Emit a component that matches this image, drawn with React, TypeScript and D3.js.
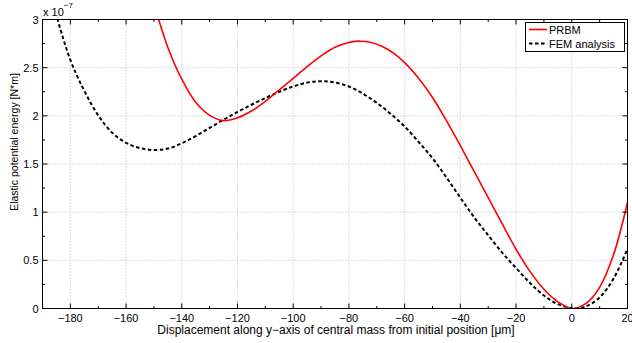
import React from "react";
import * as d3 from "d3";

const prbmX = [-150, -148.3, -145, -140, -135, -130, -125, -120, -115, -110, -105, -100, -95, -90, -85, -80, -76, -72, -68, -64, -60, -55, -50, -45, -40, -35, -30, -25, -20, -15, -10, -5, 0, 5, 10, 15, 20];
const prbmY = [3.16, 3.0, 2.71, 2.38, 2.14, 2.005, 1.95, 1.98, 2.05, 2.15, 2.27, 2.39, 2.51, 2.622, 2.712, 2.762, 2.775, 2.761, 2.719, 2.65, 2.552, 2.39, 2.19, 1.95, 1.69, 1.42, 1.15, 0.88, 0.615, 0.385, 0.2, 0.07, 0, 0.05, 0.22, 0.56, 1.1];

const femX = [-190, -185, -180, -175, -170, -165, -160, -155, -150, -145, -140, -135, -130, -125, -120, -115, -110, -105, -100, -95, -90, -85, -80, -75, -70, -65, -60, -55, -50, -45, -40, -35, -30, -25, -20, -15, -10, -5, 0, 1.5, 5, 10, 15, 20];
const femY = [3.55, 3.04, 2.58, 2.26, 2.005, 1.825, 1.72, 1.665, 1.645, 1.66, 1.715, 1.79, 1.875, 1.96, 2.04, 2.115, 2.185, 2.25, 2.305, 2.345, 2.36, 2.345, 2.305, 2.23, 2.135, 2.02, 1.89, 1.73, 1.56, 1.36, 1.15, 0.945, 0.76, 0.58, 0.42, 0.265, 0.135, 0.045, 0.003, 0, 0.02, 0.115, 0.31, 0.62];

const xTicks = [-180, -160, -140, -120, -100, -80, -60, -40, -20, 0, 20];
const xMinor = [-170, -150, -130, -110, -90, -70, -50, -30, -10, 10];
const yTicks = [0, 0.5, 1, 1.5, 2, 2.5, 3];
const yTickLabels = ["0", "0.5", "1", "1.5", "2", "2.5", "3"];
const yMinor = [0.25, 0.75, 1.25, 1.75, 2.25, 2.75];

const seriesNames = ["PRBM", "FEM analysis"];

const W = 632, H = 343;
const L = 42.5, R = 627.5, T = 19.5, B = 308.5;

export default function App() {
  const x = d3.scaleLinear().domain([-190, 20]).range([L, R]);
  const y = d3.scaleLinear().domain([0, 3]).range([B, T]);
  const line = d3.line<[number, number]>().x(d => x(d[0])).y(d => y(d[1])).curve(d3.curveCatmullRom.alpha(0.5));
  const prbm = prbmX.map((v, i) => [v, prbmY[i]] as [number, number]);
  const fem = femX.map((v, i) => [v, femY[i]] as [number, number]);
  const font = "'Liberation Sans', Arial, Helvetica, sans-serif";
  const fmt = (v: number) => (v < 0 ? "\u2212" + Math.abs(v) : String(v));
  return (
    <svg width={W} height={H} style={{ position: "absolute", left: 0, top: 0, background: "#fff" }} fontFamily={font}>
      <defs>
        <clipPath id="plot"><rect x={L} y={T} width={R - L} height={B - T} /></clipPath>
      </defs>
      <rect x={0} y={0} width={W} height={H} fill="#fff" />
      {/* grid */}
      {xTicks.map(t => (
        <line key={"gx" + t} x1={x(t)} x2={x(t)} y1={T} y2={B} stroke="#bdbdbd" strokeWidth={1} strokeDasharray="1,2" />
      ))}
      {yTicks.map(t => (
        <line key={"gy" + t} x1={L} x2={R} y1={y(t)} y2={y(t)} stroke="#bdbdbd" strokeWidth={1} strokeDasharray="1,2" />
      ))}
      {/* curves */}
      <g clipPath="url(#plot)">
        <path d={line(fem) || ""} fill="none" stroke="#000" strokeWidth={2} strokeDasharray="3.5,2.5" />
        <path d={line(prbm) || ""} fill="none" stroke="#ff0000" strokeWidth={1.6} />
      </g>
      {/* box */}
      <rect x={L} y={T} width={R - L} height={B - T} fill="none" stroke="#000" strokeWidth={1} />
      {/* ticks */}
      {xTicks.map(t => (
        <g key={"tx" + t}>
          <line x1={x(t)} x2={x(t)} y1={B} y2={B - 5} stroke="#000" />
          <line x1={x(t)} x2={x(t)} y1={T} y2={T + 5} stroke="#000" />
          <text x={x(t)} y={322} fontSize={11} textAnchor="middle" fill="#000">{fmt(t)}</text>
        </g>
      ))}
      {xMinor.map(t => (
        <g key={"mx" + t}>
          <line x1={x(t)} x2={x(t)} y1={B} y2={B - 2.5} stroke="#000" />
          <line x1={x(t)} x2={x(t)} y1={T} y2={T + 2.5} stroke="#000" />
        </g>
      ))}
      {yTicks.map((t, i) => (
        <g key={"ty" + t}>
          <line x1={L} x2={L + 5} y1={y(t)} y2={y(t)} stroke="#000" />
          <line x1={R} x2={R - 5} y1={y(t)} y2={y(t)} stroke="#000" />
          <text x={38.5} y={y(t) + 4} fontSize={11} textAnchor="end" fill="#000">{yTickLabels[i]}</text>
        </g>
      ))}
      {yMinor.map(t => (
        <g key={"my" + t}>
          <line x1={L} x2={L + 2.5} y1={y(t)} y2={y(t)} stroke="#000" />
          <line x1={R} x2={R - 2.5} y1={y(t)} y2={y(t)} stroke="#000" />
        </g>
      ))}
      {/* exponent */}
      <text x={43} y={15.5} fontSize={11} fill="#000">x 10<tspan dy={-8} fontSize={8}>−7</tspan></text>
      {/* axis labels */}
      <text x={336} y={334} fontSize={12} textAnchor="middle" fill="#000">Displacement along y−axis of central mass from initial position [μm]</text>
      <text transform={`translate(17.5,142) rotate(-90)`} fontSize={10.5} textAnchor="middle" fill="#000">Elastic potential energy [N*m]</text>
      {/* legend */}
      <rect x={525.5} y={22.5} width={99} height={29} fill="#fff" stroke="#000" strokeWidth={1} />
      <line x1={529} x2={547} y1={29.5} y2={29.5} stroke="#ff0000" strokeWidth={1.6} />
      <line x1={529} x2={547} y1={43.5} y2={43.5} stroke="#000" strokeWidth={2} strokeDasharray="3.5,2.5" />
      <text x={549} y={33.5} fontSize={11} fill="#000">{seriesNames[0]}</text>
      <text x={549} y={47.5} fontSize={11} fill="#000">{seriesNames[1]}</text>
    </svg>
  );
}
